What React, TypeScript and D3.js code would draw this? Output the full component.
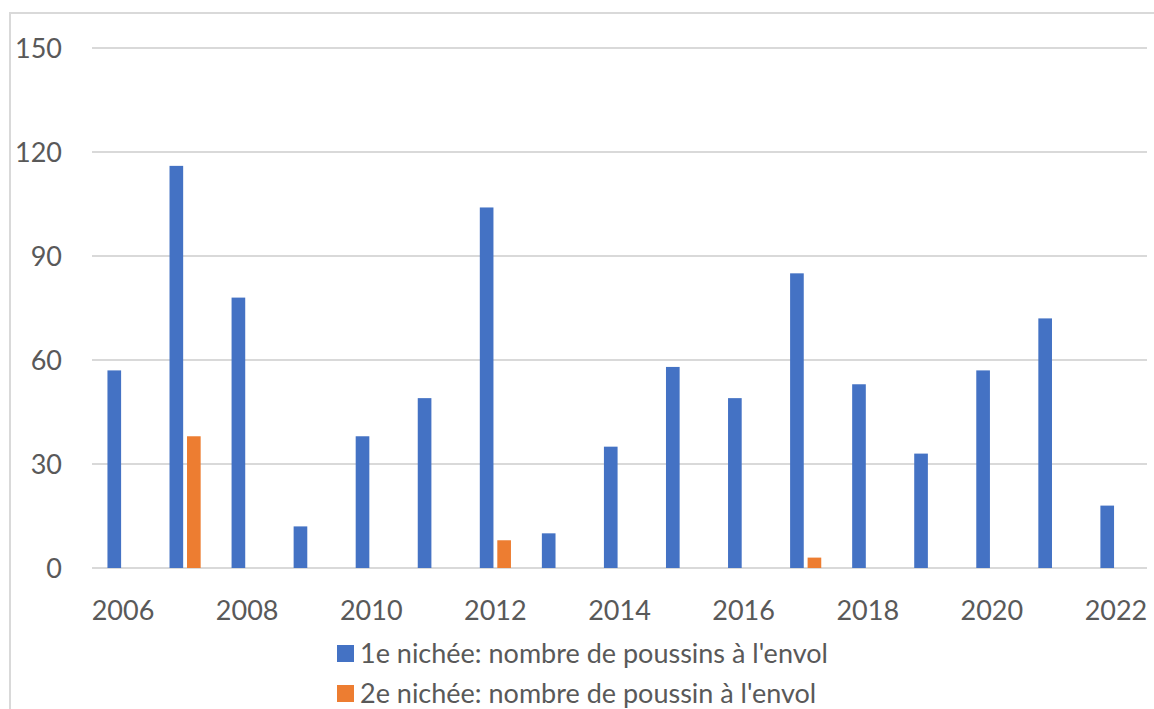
import React, { useEffect, useRef } from "react";
import * as d3 from "d3";

const years = [
  "2006", "2007", "2008", "2009", "2010", "2011", "2012", "2013", "2014",
  "2015", "2016", "2017", "2018", "2019", "2020", "2021", "2022",
];
const premiereNichee = [57, 116, 78, 12, 38, 49, 104, 10, 35, 58, 49, 85, 53, 33, 57, 72, 18];
const deuxiemeNichee = [0, 38, 0, 0, 0, 0, 8, 0, 0, 0, 0, 3, 0, 0, 0, 0, 0];
const seriesNames = [
  "1e nichée: nombre de poussins à l'envol",
  "2e nichée: nombre de poussin à l'envol",
];
const seriesColors = ["#4472c4", "#ed7d31"];
const yTicks = [0, 30, 60, 90, 120, 150];

export default function App() {
  const svgRef = useRef<SVGSVGElement>(null);

  useEffect(() => {
    if (!svgRef.current) return;
    const svg = d3.select(svgRef.current);
    svg.selectAll("*").remove();

    const W = 1154;
    const H = 709;
    const left = 92;
    const right = 1147;
    const top = 48;
    const bottom = 568;
    const font = "Lato, 'Open Sans', sans-serif";
    const textColor = "#595959";

    // chart frame (extends past the picture on right and bottom)
    svg.append("rect")
      .attr("x", 10).attr("y", 13)
      .attr("width", W + 20).attr("height", H + 20)
      .attr("fill", "#fff")
      .attr("stroke", "#d9d9d9")
      .attr("stroke-width", 2);

    const x = d3.scaleBand<string>().domain(years).range([left, right]).paddingInner(0).paddingOuter(0);
    const y = d3.scaleLinear().domain([0, 150]).range([bottom, top]);

    // gridlines
    svg.append("g")
      .selectAll("line")
      .data(yTicks)
      .enter()
      .append("line")
      .attr("x1", left).attr("x2", right)
      .attr("y1", (d) => y(d)).attr("y2", (d) => y(d))
      .attr("stroke", "#d9d9d9")
      .attr("stroke-width", 2);

    // y labels
    svg.append("g")
      .selectAll("text")
      .data(yTicks)
      .enter()
      .append("text")
      .attr("x", 62)
      .attr("y", (d) => y(d) + 10)
      .attr("text-anchor", "end")
      .attr("fill", textColor)
      .style("font-family", font)
      .style("font-size", "27px")
      .text((d) => d);

    // bars
    const bw = x.bandwidth();
    const barW = bw * 0.22;
    const gap = bw * 0.062;
    const sub = d3.scaleOrdinal<number, number>().domain([0, 1]).range([-gap / 2 - barW, gap / 2]);
    const allSeries = [premiereNichee, deuxiemeNichee];

    allSeries.forEach((vals, si) => {
      svg.append("g")
        .selectAll("rect")
        .data(vals.map((v, i) => ({ year: years[i], v })).filter((d) => d.v > 0))
        .enter()
        .append("rect")
        .attr("x", (d) => (x(d.year) as number) + bw / 2 + sub(si))
        .attr("y", (d) => y(d.v))
        .attr("width", barW)
        .attr("height", (d) => y(0) - y(d.v))
        .attr("fill", seriesColors[si]);
    });

    // x labels (every other year)
    svg.append("g")
      .selectAll("text")
      .data(years.filter((_, i) => i % 2 === 0))
      .enter()
      .append("text")
      .attr("x", (d) => (x(d) as number) + bw / 2)
      .attr("y", 620)
      .attr("text-anchor", "middle")
      .attr("fill", textColor)
      .style("font-family", font)
      .style("font-size", "27px")
      .text((d) => d);

    // legend
    const lg = svg.append("g");
    seriesNames.forEach((name, i) => {
      const ly = 663 + i * 40;
      lg.append("rect")
        .attr("x", 337).attr("y", ly - 18)
        .attr("width", 17).attr("height", 17)
        .attr("fill", seriesColors[i]);
      lg.append("text")
        .attr("x", 360).attr("y", ly)
        .attr("fill", textColor)
        .style("font-family", font)
        .style("font-size", "27px")
        .text(name);
    });
  }, []);

  return (
    <svg
      ref={svgRef}
      width={1154}
      height={709}
      style={{ position: "absolute", left: 0, top: 0, background: "#fff" }}
    />
  );
}
